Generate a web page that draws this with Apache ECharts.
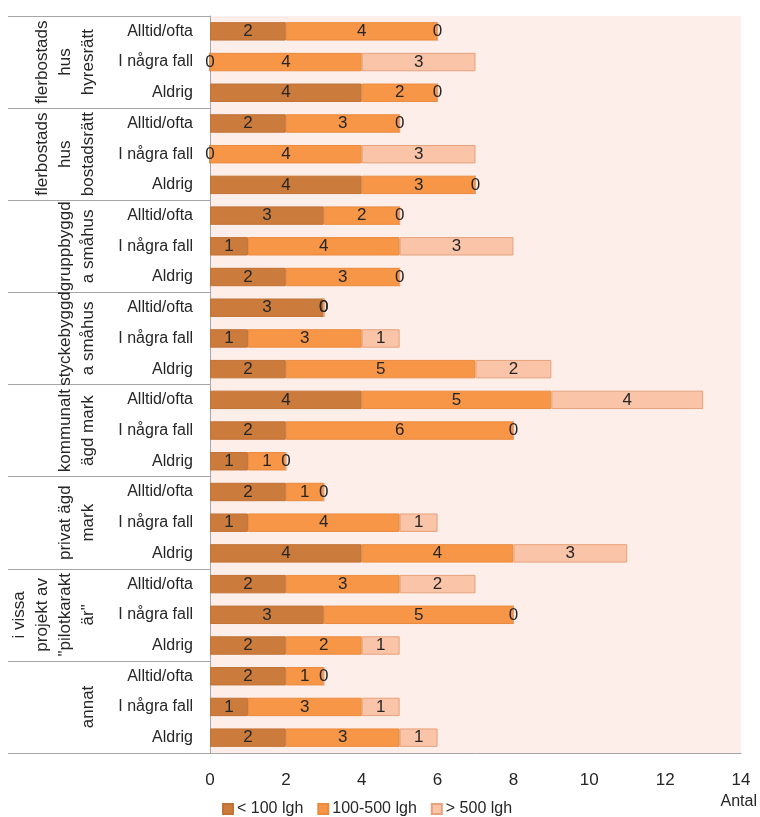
<!DOCTYPE html>
<html>
<head>
<meta charset="utf-8">
<script src="https://cdn.jsdelivr.net/npm/echarts@6/dist/echarts.min.js"></script>
<style>
  html, body { margin: 0; padding: 0; background: #ffffff; }
  #chart { width: 760px; height: 817px; }
</style>
</head>
<body>
<div id="chart"></div>
<script>
// Groups (wrapped as they appear on the rotated axis) and answer rows per group
const groups = [
  'flerbostads\nhus\nhyresrätt',
  'flerbostads\nhus\nbostadsrätt',
  'gruppbyggd\na småhus',
  'styckebyggd\na småhus',
  'kommunalt\nägd mark',
  'privat ägd\nmark',
  'i vissa\nprojekt av\n"pilotkarakt\när"',
  'annat'
];
const answers = ['Alltid/ofta', 'I några fall', 'Aldrig'];

// Counts per row (group × answer), top to bottom
const small  = [2, 0, 4,  2, 0, 4,  3, 1, 2,  3, 1, 2,  4, 2, 1,  2, 1, 4,  2, 3, 2,  2, 1, 2];
const medium = [4, 4, 2,  3, 4, 3,  2, 4, 3,  0, 3, 5,  5, 6, 1,  1, 4, 4,  3, 5, 2,  1, 3, 3];
const large  = [0, 3, 0,  0, 3, 0,  0, 3, 0,  0, 1, 2,  4, 0, 0,  0, 1, 3,  2, 0, 1,  0, 1, 1];

const seriesNames = ['< 100 lgh', '100-500 lgh', '> 500 lgh'];
const xTicks = { min: 0, max: 14, step: 2 };

const rows = [];
groups.forEach(() => answers.forEach(a => rows.push(a)));

const FONT = '"Liberation Sans", Arial, sans-serif';
const TEXT = '#262626';
const AXIS = '#A6A6A6';

const colors = ['#CB7B3B', '#F79646', '#FAC4A8'];
const borders = ['#C27235', '#E98B3F', '#E5A27C'];

function barSeries(name, data, i) {
  return {
    name: name,
    type: 'bar',
    stack: 'total',
    data: data,
    yAxisIndex: 0,
    barWidth: '60%',
    itemStyle: { color: colors[i], borderColor: borders[i], borderWidth: 1 },
    label: {
      show: true,
      position: 'inside',
      color: TEXT,
      fontFamily: FONT,
      fontSize: 17
    },
    emphasis: { disabled: true }
  };
}

const chart = echarts.init(document.getElementById('chart'), null, { renderer: 'canvas' });

chart.setOption({
  animation: false,
  textStyle: { fontFamily: FONT },
  grid: {
    left: 210, right: 19, top: 16, bottom: 64,
    show: true, backgroundColor: '#FDEEE9', borderWidth: 0
  },
  legend: {
    data: seriesNames,
    left: 217, top: 796,
    itemWidth: 10, itemHeight: 10, itemGap: 14,
    icon: 'rect',
    textStyle: { color: TEXT, fontSize: 16, fontFamily: FONT, padding: [0, 0, 0, -1] }
  },
  xAxis: {
    type: 'value',
    min: xTicks.min, max: xTicks.max, interval: xTicks.step,
    axisLine: { show: true, lineStyle: { color: AXIS, width: 1 } },
    axisTick: { show: false },
    splitLine: { show: false },
    axisLabel: { color: TEXT, fontSize: 17, fontFamily: FONT, margin: 19 }
  },
  yAxis: [
    {
      type: 'category',
      data: rows,
      inverse: true,
      axisLine: { show: true, lineStyle: { color: AXIS, width: 1 } },
      axisTick: { show: false },
      axisLabel: { interval: 0, color: TEXT, fontSize: 16, fontFamily: FONT, margin: 17 }
    },
    {
      type: 'category',
      data: groups,
      inverse: true,
      position: 'left',
      offset: 0,
      axisLine: { show: false },
      axisTick: { show: true, length: 202, interval: 0, lineStyle: { color: AXIS, width: 1 } },
      axisLabel: {
        interval: 0, rotate: 90, margin: 110,
        color: TEXT, fontSize: 17, fontFamily: FONT, lineHeight: 23, align: 'center'
      }
    }
  ],
  graphic: [
    {
      type: 'text',
      right: 3, top: 794,
      style: { text: 'Antal', fill: TEXT, font: '16px ' + FONT }
    }
  ],
  series: [
    barSeries(seriesNames[0], small, 0),
    barSeries(seriesNames[1], medium, 1),
    barSeries(seriesNames[2], large, 2)
  ]
});
</script>
</body>
</html>
